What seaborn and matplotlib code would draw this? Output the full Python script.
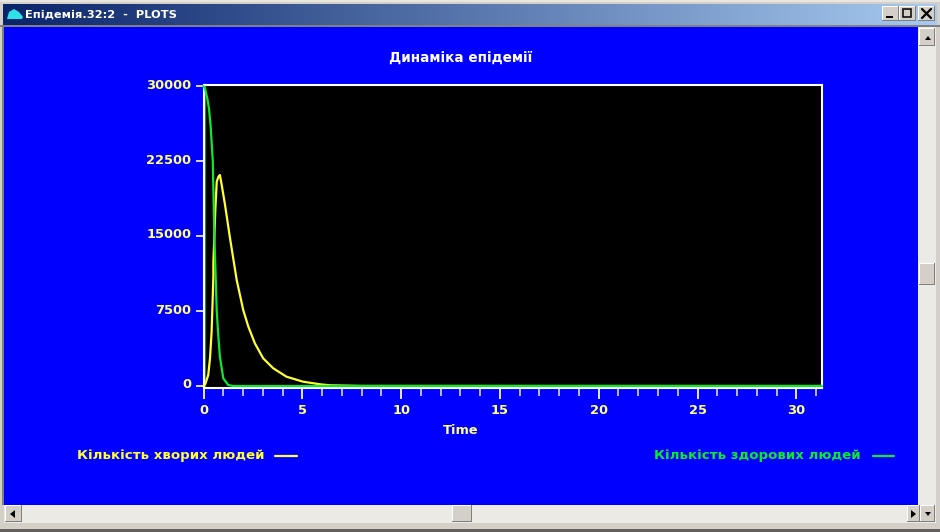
import numpy as np
import pandas as pd
import matplotlib
matplotlib.use("Agg")
import matplotlib.pyplot as plt
from matplotlib.patches import Rectangle, Polygon
from matplotlib.lines import Line2D
from matplotlib.transforms import ScaledTranslation
import seaborn as sns

TITLE = "Динаміка епідемії"
WINDOW_TITLE = "Епідемія.32:2  -  PLOTS"
SICK_LABEL = "Кількість хворих людей"
HEALTHY_LABEL = "Кількість здорових людей"
X_LABEL = "Time"
x_ticks = [0, 5, 10, 15, 20, 25, 30]
y_ticks = [0, 7500, 15000, 22500, 30000]

sick_t = [0, 0.1, 0.24, 0.33, 0.41, 0.46, 0.5, 0.5, 0.55, 0.6, 0.67, 0.75, 0.83, 0.93, 1.09, 1.34, 1.68, 2.01, 2.27, 2.6, 3.02, 3.53, 4.2, 5.04, 5.9, 6.4, 8, 31.3]
sick_v = [0, 250, 1100, 2800, 5400, 8400, 11000, 12400, 15000, 17700, 20430, 20900, 21100, 20000, 18100, 14800, 10600, 7600, 5930, 4270, 2770, 1770, 930, 430, 170, 70, 10, 0]
healthy_t = [0, 0.08, 0.2, 0.28, 0.36, 0.47, 0.55, 0.67, 0.75, 0.83, 1.0, 1.25, 1.5, 31.3]
healthy_v = [30000, 29700, 28700, 27700, 26000, 22500, 15000, 7500, 5000, 2930, 770, 100, 0, 0]
start_t = [0.06, 0.06]
start_v = [0, 30000]

BLUE, BLACK, WHITE = "#0000FF", "#000000", "#FFFFFF"
YELLOW, GREEN, PALE = "#FFFF33", "#10E830", "#FFFF80"
DARK_GREEN = "#1E8A1E"
GREY, DARK = "#D4D0C8", "#808080"
FONT = "DejaVu Sans"

sns.set_theme(style="dark", rc={"font.family": FONT})
W, H = 940, 532
fig = plt.figure(figsize=(W / 100, H / 100), dpi=100, facecolor=GREY)

# window chrome in pixel coordinates
chrome = fig.add_axes([0, 0, 1, 1], zorder=0)
chrome.set_xlim(0, W); chrome.set_ylim(H, 0); chrome.axis("off")
def box(x, y, w, h, c, **k):
    chrome.add_patch(Rectangle((x, y), w, h, facecolor=c, edgecolor="none", **k))
def button(x, y, w, h):
    box(x, y, w, h, DARK); box(x, y, w - 1, h - 1, WHITE); box(x + 1, y + 1, w - 2, h - 2, GREY)
grad = np.linspace(0, 1, 256)[None, :, None] * (np.array([166, 202, 240]) - np.array([10, 36, 106])) / 255 + np.array([10, 36, 106]) / 255
chrome.imshow(grad, extent=(3, 937, 25, 4), aspect="auto", zorder=1)
chrome.set_xlim(0, W); chrome.set_ylim(H, 0)
box(0, 0, W, 2, "#E8E6E0"); box(0, 529, W, 3, "#606060")
box(0, 25, W, 2, DARK)
box(2, 27, 2, 478, DARK)
box(4, 27, 914, 478, BLUE)
hatch = "#ECEAE5"
box(918, 27, 18, 478, hatch); box(4, 505, 932, 18, hatch)
button(919, 28, 16, 18); button(919, 263, 16, 22)
button(907, 505, 13, 17); button(920, 505, 15, 17)
button(5, 505, 17, 17); button(452, 505, 20, 17)
box(0, 523, W, 2, GREY)
button(882, 6, 17, 15); button(899, 6, 17, 15); button(918, 6, 17, 15)
for pts in ([(925, 40), (931, 40), (928, 36)], [(925, 512), (931, 512), (928, 516)],
            [(911, 510), (911, 518), (916, 514)], [(10, 514), (15, 510), (15, 518)]):
    chrome.add_patch(Polygon(pts, facecolor=BLACK, edgecolor="none", zorder=3))
box(886, 16, 7, 2, BLACK, zorder=3)
chrome.add_patch(Rectangle((903, 9), 8, 8, facecolor="none", edgecolor=BLACK, lw=1.1, zorder=3))
chrome.plot([922, 931], [9, 18], color=BLACK, lw=1.6, zorder=3)
chrome.plot([922, 931], [18, 9], color=BLACK, lw=1.6, zorder=3)
chrome.add_patch(Polygon([(7, 19), (9, 12), (14, 9), (19, 12), (23, 17), (22, 19)], facecolor="#30E0E8", edgecolor="none", zorder=3))
chrome.text(25, 14.5, WINDOW_TITLE, color=WHITE, fontsize=8.2, fontweight="bold", va="center", ha="left", zorder=3)

# plot
L, R, T, B = 203.5, 822, 85, 388
ax = fig.add_axes([L / W, 1 - B / H, (R - L) / W, (B - T) / H], zorder=2, facecolor=BLACK)
sick = pd.DataFrame({"t": sick_t, "v": sick_v})
healthy = pd.DataFrame({"t": healthy_t, "v": healthy_v})
start = pd.DataFrame({"t": start_t, "v": start_v})
sns.lineplot(data=start, x="t", y="v", ax=ax, color=DARK_GREEN, lw=1.0, estimator=None, sort=False, zorder=2)
sns.lineplot(data=sick, x="t", y="v", ax=ax, color=YELLOW, lw=1.6, estimator=None, sort=False, clip_on=False, zorder=3)
sns.lineplot(data=healthy, x="t", y="v", ax=ax, color=GREEN, lw=1.6, estimator=None, sort=False, clip_on=False, zorder=3.1)
ax.set_xlim(0, 31.3)
ax.set_ylim(-200, 30100)
ax.grid(False)
ax.set_xticks(x_ticks)
ax.set_xticks(np.arange(0, 32), minor=True)
ax.set_yticks(y_ticks)
ax.tick_params(axis="x", which="major", length=8, width=1.4, color="#E8E8E8", labelcolor=PALE, labelsize=9.4, pad=3.5, bottom=True)
ax.tick_params(axis="x", which="minor", length=5.5, width=1.2, color="#D8D8D8", bottom=True)
ax.tick_params(axis="y", which="major", length=5.8, width=1.4, color="#D8D8D8", labelcolor=PALE, labelsize=9.4, pad=3, left=True)
up = ScaledTranslation(0, 2.5 / 100, fig.dpi_scale_trans)
for lab in ax.get_xticklabels():
    lab.set_fontweight("bold")
for lab in ax.get_yticklabels():
    lab.set_fontweight("bold")
    lab.set_transform(lab.get_transform() + up)
for s in ax.spines.values():
    s.set_visible(True); s.set_color(WHITE); s.set_linewidth(1.5)
ax.set_xlabel(X_LABEL, color=PALE, fontsize=9.4, fontweight="bold", va="center")
ax.xaxis.set_label_coords((461 - L) / (R - L), -(430 - B) / (B - T))
ax.set_ylabel("")

chrome.text(461, 58, TITLE, color=WHITE, fontsize=9.8, fontweight="bold", ha="center", va="center", zorder=3)
chrome.text(77, 456, SICK_LABEL, color=YELLOW, fontsize=9.6, fontweight="bold", ha="left", va="center", zorder=3)
chrome.text(654, 456, HEALTHY_LABEL, color=GREEN, fontsize=9.6, fontweight="bold", ha="left", va="center", zorder=3)
chrome.add_line(Line2D([275, 297], [456, 456], color=YELLOW, lw=1.6, zorder=3))
chrome.add_line(Line2D([873, 894], [456, 456], color=GREEN, lw=1.6, zorder=3))

fig.savefig("out.png", dpi=100, facecolor=fig.get_facecolor())
